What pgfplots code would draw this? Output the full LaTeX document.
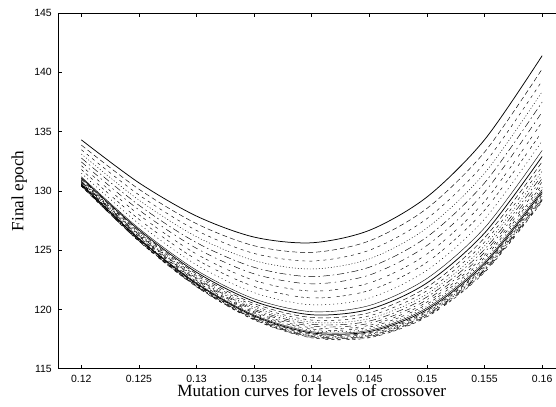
\documentclass[border=0pt]{standalone}
\usepackage{fontspec}
\setmainfont{Liberation Serif}
\newfontfamily\sansf{Liberation Sans}
\usepackage{pgfplots}
\pgfplotsset{compat=1.18}
\pgfplotscreateplotcyclelist{gp}{
{black, solid, line width=0.75pt},
{black, line width=0.45pt, dash pattern=on 5bp off 3bp},
{black, line width=0.45pt, dash pattern=on 3bp off 4bp},
{black, line width=0.45pt, dash pattern=on 1bp off 2bp},
{black, line width=0.45pt, dash pattern=on 7bp off 3bp on 1.5bp off 3bp},
{black, line width=0.45pt, dash pattern=on 6bp off 4bp on 1.5bp off 4bp},
{black, line width=0.45pt, dash pattern=on 3bp off 3bp on 3bp off 6bp},
{black, line width=0.45pt, dash pattern=on 3bp off 3bp on 3bp off 3bp on 3bp off 6bp},
{black, line width=0.45pt, dash pattern=on 1bp off 3bp},
}
\newcommand{\curve}[9]{\addplot coordinates {(0.12,#1)(0.125,#2)(0.13,#3)(0.135,#4)(0.14,#5)(0.145,#6)(0.15,#7)(0.155,#8)(0.16,#9)};}
\begin{document}
\begin{tikzpicture}
\begin{axis}[
 scale only axis, width=506.9bp, height=355.7bp,
 xmin=0.118, xmax=0.162, ymin=115, ymax=145,
 xtick={0.12,0.125,0.13,0.135,0.14,0.145,0.15,0.155,0.16},
 xticklabels={0.12,0.125,0.13,0.135,0.14,0.145,0.15,0.155,0.16},
 ytick={115,120,125,130,135,140,145},
 yticklabels={115,120,125,130,135,140,145},
 tick align=inside, major tick length=4bp, tick style={black, line width=0.6pt},
 xtick pos=both, ytick pos=left,
 axis line style={line width=0.8pt},
 ticklabel style={font=\sansf\fontsize{10.5}{12}\selectfont, inner sep=0pt},
 xticklabel style={yshift=-6.5bp}, yticklabel style={xshift=-6.3bp},
 xlabel={Mutation curves for levels of crossover}, ylabel={Final epoch},
 label style={font=\fontsize{17.2}{20}\selectfont},
 xlabel style={at={(axis description cs:0.5,-0.0776)}, anchor=base},
 ylabel style={at={(axis description cs:-0.06905,0.5)}, anchor=base},
 cycle list name=gp, no markers,
 every axis plot post/.append style={smooth},
]
\curve{134.30}{130.68}{127.87}{126.10}{125.62}{126.67}{129.48}{134.31}{141.40}
\curve{133.86}{130.14}{127.23}{125.37}{124.81}{125.78}{128.52}{133.27}{140.28}
\curve{133.47}{129.66}{126.66}{124.72}{124.08}{124.99}{127.66}{132.34}{139.28}
\curve{133.11}{129.22}{126.13}{124.12}{123.41}{124.26}{126.87}{131.49}{138.36}
\curve{132.77}{128.79}{125.63}{123.55}{122.77}{123.56}{126.11}{130.67}{137.49}
\curve{132.44}{128.39}{125.15}{123.00}{122.16}{122.90}{125.39}{129.89}{136.65}
\curve{132.12}{127.99}{124.67}{122.45}{121.55}{122.23}{124.67}{129.11}{135.81}
\curve{131.80}{127.60}{124.21}{121.93}{120.97}{121.60}{123.98}{128.37}{135.01}
\curve{131.49}{127.22}{123.76}{121.41}{120.39}{120.96}{123.30}{127.62}{134.21}
\curve{131.18}{126.83}{123.30}{120.89}{119.81}{120.33}{122.61}{126.88}{133.41}
\curve{131.09}{126.70}{123.13}{120.68}{119.55}{120.01}{122.23}{126.44}{132.90}
\curve{131.01}{126.59}{122.99}{120.49}{119.32}{119.72}{121.88}{126.04}{132.45}
\curve{130.93}{126.48}{122.85}{120.32}{119.10}{119.46}{121.58}{125.68}{132.04}
\curve{130.86}{126.39}{122.73}{120.17}{118.92}{119.23}{121.30}{125.36}{131.66}
\curve{130.80}{126.31}{122.63}{120.03}{118.75}{119.02}{121.05}{125.07}{131.33}
\curve{130.75}{126.23}{122.53}{119.91}{118.59}{118.83}{120.82}{124.81}{131.04}
\curve{130.70}{126.16}{122.44}{119.80}{118.45}{118.66}{120.62}{124.58}{130.76}
\curve{130.66}{126.10}{122.36}{119.70}{118.33}{118.51}{120.44}{124.37}{130.52}
\curve{130.62}{126.04}{122.29}{119.61}{118.22}{118.37}{120.27}{124.18}{130.30}
\curve{130.58}{125.99}{122.23}{119.53}{118.12}{118.24}{120.13}{124.00}{130.10}
\curve{130.55}{125.95}{122.17}{119.45}{118.02}{118.13}{119.99}{123.85}{129.93}
\curve{130.52}{125.91}{122.12}{119.39}{117.94}{118.03}{119.87}{123.71}{129.77}
\curve{130.50}{125.87}{122.07}{119.33}{117.87}{117.94}{119.77}{123.59}{129.63}
\curve{130.47}{125.84}{122.03}{119.27}{117.80}{117.86}{119.67}{123.48}{129.50}
\curve{130.45}{125.81}{121.99}{119.23}{117.74}{117.79}{119.58}{123.37}{129.38}
\curve{130.43}{125.79}{121.96}{119.18}{117.69}{117.72}{119.50}{123.28}{129.28}
\curve{130.42}{125.76}{121.93}{119.14}{117.64}{117.66}{119.43}{123.20}{129.18}
\curve{130.40}{125.74}{121.90}{119.11}{117.60}{117.61}{119.37}{123.13}{129.10}
\coordinate (SW) at (rel axis cs:0,0);
\coordinate (NW) at (rel axis cs:0,1);
\end{axis}
\pgfresetboundingbox
\path[use as bounding box] ([shift={(-58.3bp,-38.3bp)}]SW) rectangle ([shift={(497.7bp,13bp)}]NW);
\end{tikzpicture}
\end{document}
